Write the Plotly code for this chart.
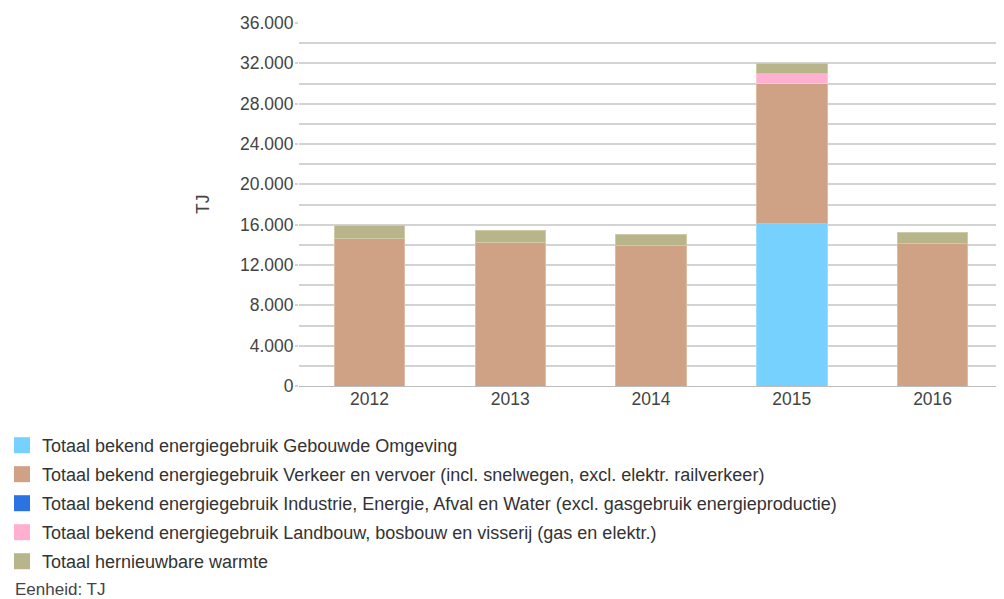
import plotly.graph_objects as go

years = ["2012", "2013", "2014", "2015", "2016"]
gebouwde_omgeving = [0, 0, 0, 16150, 0]
verkeer_vervoer = [14580, 14250, 13950, 13850, 14100]
industrie = [0, 0, 0, 0, 0]
landbouw = [0, 0, 0, 950, 0]
hernieuwbare_warmte = [1320, 1130, 1100, 1000, 1100]

series_names = [
    "Totaal bekend energiegebruik Gebouwde Omgeving",
    "Totaal bekend energiegebruik Verkeer en vervoer (incl. snelwegen, excl. elektr. railverkeer)",
    "Totaal bekend energiegebruik Industrie, Energie, Afval en Water (excl. gasgebruik energieproductie)",
    "Totaal bekend energiegebruik Landbouw, bosbouw en visserij (gas en elektr.)",
    "Totaal hernieuwbare warmte",
]
series_values = [gebouwde_omgeving, verkeer_vervoer, industrie, landbouw, hernieuwbare_warmte]
colors = ["#76D1FF", "#CFA185", "#2B72E2", "#FFAFCF", "#B9B58A"]
edge = ["#9EDDFF", "#DDBBA6", "#5A90E8", "#FFC8DD", "#CFCBA8"]

# The page body adds an 8px offset; the figure is sized to compensate.
W, H = 996, 591
L, R, T, B = 291, 1, 15, 213
PW, PH = W - L - R, H - T - B
plot_bottom = T + PH

fig = go.Figure()
for i, (name, vals) in enumerate(zip(series_names, series_values)):
    fig.add_trace(go.Bar(
        x=years, y=vals, name=name,
        marker=dict(color=colors[i], line=dict(color=edge[i], width=1)),
        width=0.5, showlegend=False,
    ))
# legend entries with larger square swatches
for i, name in enumerate(series_names):
    fig.add_trace(go.Scatter(
        x=[years[0]], y=[None], name=name, mode="markers",
        marker=dict(symbol="square", size=16, color=colors[i]),
        legendgroup=f"g{i}", hoverinfo="skip",
    ))

font = "Liberation Sans, Arial, sans-serif"
fig.update_layout(
    width=W, height=H,
    barmode="stack",
    separators=",.",
    paper_bgcolor="white", plot_bgcolor="white",
    margin=dict(l=L, r=R, t=T, b=B, autoexpand=False),
    font=dict(family=font, size=17.5, color="#444444"),
    showlegend=True,
    legend=dict(
        x=(-6 - L) / PW, xanchor="left",
        y=-(419 - plot_bottom) / PH, yanchor="top",
        traceorder="grouped", tracegroupgap=2.6,
        font=dict(size=18, color="#333333"),
        bgcolor="rgba(0,0,0,0)",
    ),
    xaxis=dict(
        showgrid=False, showline=True, linecolor="#BBBBBB", linewidth=1,
        ticks="", ticklabelstandoff=-3,
        tickfont=dict(size=17.5, color="#444444"),
    ),
    yaxis=dict(
        range=[0, 36000], dtick=4000, tickformat=",d",
        showgrid=True, gridcolor="#D3D3D3", gridwidth=2,
        ticks="outside", ticklen=3, tickcolor="#D3D3D3", tickwidth=2,
        ticklabelstandoff=-2,
        minor=dict(dtick=2000, showgrid=True, gridcolor="#D3D3D3", gridwidth=2),
        zeroline=False, showline=False, automargin=False,
        tickfont=dict(size=17.5, color="#444444"),
    ),
    annotations=[
        dict(text="TJ", textangle=-90, xref="paper", yref="paper",
             x=(195 - L) / PW, y=(plot_bottom - 197) / PH, showarrow=False,
             xanchor="center", yanchor="middle",
             font=dict(size=17.5, color="#444444")),
        dict(text="Eenheid: TJ", xref="paper", yref="paper",
             x=(5 - L) / PW, xanchor="left",
             y=-(581 - plot_bottom) / PH, yanchor="middle", showarrow=False,
             font=dict(size=17, color="#444444")),
    ],
)

fig.write_html("out.html")
